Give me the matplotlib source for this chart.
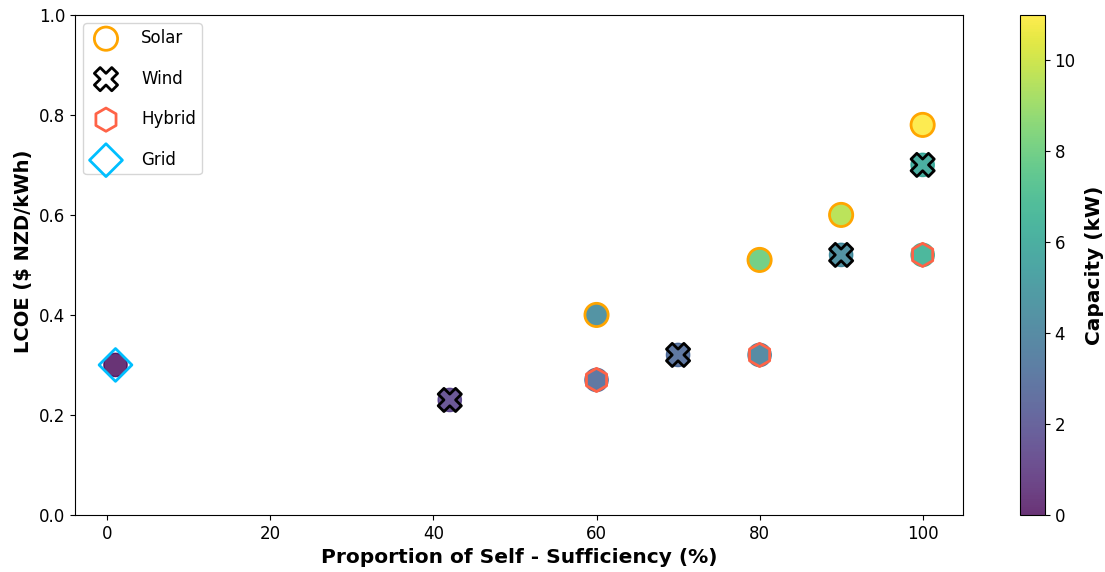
import numpy as np
import matplotlib
matplotlib.use('Agg')
from matplotlib import pyplot as plt
from matplotlib.colors import Normalize

# self-sufficiency (%), LCOE ($ NZD/kWh), capacity (kW)
solar_x = [60, 80, 90, 100]
solar_y = [0.40, 0.51, 0.60, 0.78]
solar_cap = [4.5, 8.0, 9.6, 11.0]

wind_x = [42, 70, 90, 100]
wind_y = [0.23, 0.32, 0.52, 0.70]
wind_cap = [1.5, 3.0, 4.5, 6.0]

hybrid_x = [60, 80, 100]
hybrid_y = [0.27, 0.32, 0.52]
hybrid_cap = [3.0, 4.0, 6.5]

grid_x = [1]
grid_y = [0.30]
grid_cap = [0.0]

x = solar_x + wind_x + hybrid_x + grid_x
y = solar_y + wind_y + hybrid_y + grid_y
cap = solar_cap + wind_cap + hybrid_cap + grid_cap

fig = plt.figure(figsize=(11.05, 5.72), dpi=100)
ax = fig.add_axes([0.068, 0.0997, 0.8035, 0.8743])
cax = fig.add_axes([0.923, 0.0997, 0.0226, 0.8743])

norm = Normalize(vmin=0, vmax=11)
sc = ax.scatter(x, y, c=cap, cmap='viridis', norm=norm, s=280, alpha=0.8)

ax.scatter(solar_x, solar_y, facecolors='none', edgecolors='orange', marker='o', s=280, linewidths=2, label='Solar')
ax.scatter(wind_x, wind_y, facecolors='none', edgecolors='black', marker='X', s=280, linewidths=2, label='Wind')
ax.scatter(hybrid_x, hybrid_y, facecolors='none', edgecolors='tomato', marker='h', s=280, linewidths=2, label='Hybrid')
ax.scatter(grid_x, grid_y, facecolors='none', edgecolors='deepskyblue', marker='D', s=280, linewidths=2, label='Grid')

ax.set_ylim(0, 1.0)
ax.tick_params(labelsize=12)
ax.set_xlabel('Proportion of Self - Sufficiency (%)', fontsize=14.5, fontweight='bold')
ax.set_ylabel('LCOE ($ NZD/kWh)', fontsize=14, fontweight='bold')
ax.yaxis.label.set_y(0.528)
ax.legend(loc='upper left', fontsize=12, labelspacing=1.35, borderpad=0.35, handletextpad=1.1)

cb = fig.colorbar(sc, cax=cax)
cb.set_label('Capacity (kW)', fontsize=14.5, fontweight='bold', labelpad=7)
cb.ax.tick_params(labelsize=12)

plt.savefig('out.png')
